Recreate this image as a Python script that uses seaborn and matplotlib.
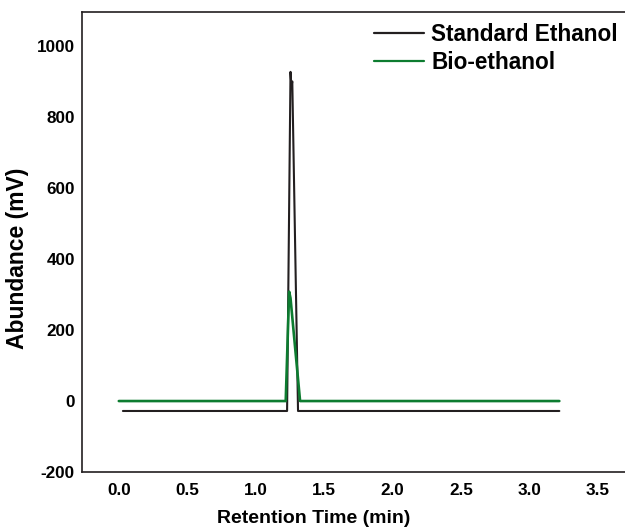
import seaborn as sns
import matplotlib.pyplot as plt
import pandas as pd

# chromatogram traces (time in min, abundance in mV)
std_time = [0.03, 1.23, 1.255, 1.262, 1.268, 1.31, 3.22]
std_signal = [-28, -28, 927, 885, 900, -28, -28]

bio_time = [0.0, 1.22, 1.245, 1.255, 1.325, 3.22]
bio_signal = [0, 0, 308, 290, 0, 0]

labels = ['Standard Ethanol', 'Bio-ethanol']
colors = ['#231f20', '#0d7c30']

df = pd.concat([
    pd.DataFrame({'time': std_time, 'signal': std_signal, 'sample': labels[0]}),
    pd.DataFrame({'time': bio_time, 'signal': bio_signal, 'sample': labels[1]}),
])

sns.set_style('white')
plt.rcParams['font.family'] = ['Liberation Sans', 'DejaVu Sans']
plt.rcParams['font.weight'] = 'bold'
plt.rcParams['text.color'] = 'black'
plt.rcParams['axes.labelcolor'] = 'black'
plt.rcParams['xtick.color'] = 'black'
plt.rcParams['ytick.color'] = 'black'
plt.rcParams['axes.unicode_minus'] = False

fig = plt.figure(figsize=(6.25, 5.31), dpi=100)
ax = fig.add_axes([0.131, 0.111, 0.869, 0.866])

sns.lineplot(data=df, x='time', y='signal', hue='sample', palette=colors,
             estimator=None, sort=False, ax=ax, linewidth=1.6)
for line, lw in zip(ax.lines, [1.5, 1.9]):
    line.set_linewidth(lw)

ax.set_xlim(-0.27, 3.70)
ax.set_ylim(-200, 1095)
ax.set_xticks([0.0, 0.5, 1.0, 1.5, 2.0, 2.5, 3.0, 3.5])
ax.set_xticklabels([f'{v:.1f}' for v in ax.get_xticks()])
ax.set_yticks([-200, 0, 200, 400, 600, 800, 1000])
ax.set_yticklabels([str(v) for v in ax.get_yticks().astype(int)])
ax.tick_params(length=0, labelsize=12.3)
ax.tick_params(axis='y', pad=5)
ax.tick_params(axis='x', pad=8)
for lab in ax.get_xticklabels() + ax.get_yticklabels():
    lab.set_fontweight('bold')

ax.set_xlabel('Retention Time (min)', fontsize=14, fontweight='bold')
ax.set_ylabel('Abundance (mV)', fontsize=16.5, fontweight='bold')
ax.xaxis.set_label_coords(0.4275, -0.083)
ax.yaxis.set_label_coords(-0.097, 0.465)

for side in ['left', 'bottom', 'top']:
    ax.spines[side].set_color('#231f20')
    ax.spines[side].set_linewidth(1.2)
ax.spines['right'].set_visible(False)

ax.legend(frameon=False, loc='upper right', bbox_to_anchor=(1.024, 1.02),
          prop={'size': 16.3, 'weight': 'bold'}, handlelength=2.2,
          handletextpad=0.3, labelspacing=0.2)

fig.savefig('out.png', dpi=100)
